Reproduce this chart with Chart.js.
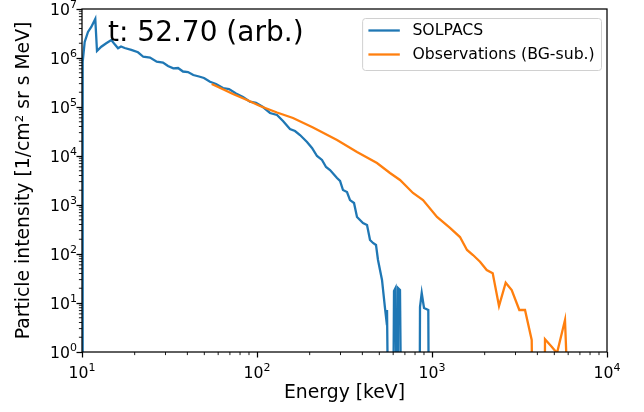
<!DOCTYPE html>
<html lang="en">
<head>
<meta charset="UTF-8">
<title>SOLPACS spectrum vs observations</title>
<script src="https://cdn.jsdelivr.net/npm/chart.js"></script>
<style>
    html, body { margin: 0; padding: 0; background: #fff; }
    #wrap { width: 644px; height: 412px; }
</style>
</head>
<body>
<div id="wrap"><canvas id="spectrum"></canvas></div>
<script>
// energy in keV, intensity in 1/(cm2 sr s MeV); 0.01 means the bin fell off the bottom of the plot
const solpacsEnergy = [10.0, 10.09, 10.36, 10.82, 11.30, 11.91, 12.18, 12.89, 13.76, 14.71,
    15.38, 16.06, 16.71, 17.54, 19.13, 20.89, 22.40, 24.47, 26.73, 29.03,
    31.0, 33.25, 35.38, 37.77, 40.34, 43.25, 46.63, 49.78, 53.88, 58.32,
    63.93, 69.18, 75.86, 83.18, 91.2, 98.7, 108.2, 118.7, 130.1, 140.8,
    154.3, 164.9, 176.1, 193.1, 206.2, 220.2, 235.2, 248, 261.4, 286.6,
    298.2, 310, 326.8, 340, 358.4, 372.8, 403.4, 425.3, 442.4, 460.2,
    478.6, 491.4, 518, 538.8, 546, 553.4, 564.4, 598.6, 606.6, 618.6,
    631, 639.3, 656.3, 669.4, 848.4, 854, 873.4, 900.3, 952.5, 961.4];
const solpacsIntensity = [0.01, 8.3e5, 2.12e6, 3.4e6, 4.3e6, 6.25e6, 1.39e6, 1.70e6, 2.0e6, 2.33e6,
    1.9e6, 1.58e6, 1.72e6, 1.60e6, 1.46e6, 1.31e6, 1.06e6, 1.02e6, 8.4e5, 8.1e5,
    6.87e5, 6.17e5, 6.25e5, 5.3e5, 5.18e5, 4.5e5, 4.19e5, 3.91e5, 3.28e5, 2.95e5,
    2.44e5, 2.33e5, 1.89e5, 1.6e5, 1.28e5, 1.21e5, 1.0e5, 7.55e4, 6.87e4, 5.18e4,
    3.56e4, 3.24e4, 2.68e4, 1.93e4, 1.46e4, 1.0e4, 8.3e3, 5.97e3, 5.18e3, 3.56e3,
    3.09e3, 2.02e3, 1.84e3, 1.26e3, 1.1e3, 569, 429, 391, 193, 168,
    153, 75.4, 29.5, 7.9, 5.2, 7.2, 0.01, 0.01, 17.6, 20.2,
    0.01, 20.2, 18.4, 0.01, 0.01, 8.3, 16, 7.9, 7.2, 0.01];

const obsEnergy = [55.1, 58.3, 63.9, 72.9, 87.7, 104, 130.1, 160.6, 208.9, 286.6,
    372.8, 484.9, 575.4, 656.3, 778.6, 888.5, 1068, 1267, 1445, 1585,
    1715, 1881, 2054, 2223, 2415, 2637, 2854, 3155, 3400, 3713,
    3776, 4395, 4423, 4831, 5180, 5754, 6146];
const obsIntensity = [2.95e5, 2.68e5, 2.3e5, 1.84e5, 1.39e5, 1.05e5, 7.73e4, 5.97e4, 3.82e4, 2.12e4,
    1.21e4, 7.2e3, 4.5e3, 3.24e3, 1.76e3, 1.26e3, 569, 340, 222, 121,
    95.4, 69.7, 47.1, 40.4, 8.7, 25.9, 18.4, 7.2, 7.2, 1.76,
    0.01, 0.01, 1.82, 1.28, 0.95, 4.5, 0.01];

const xDecades = [10, 100, 1000, 10000];
const yDecades = [1, 10, 100, 1e3, 1e4, 1e5, 1e6, 1e7];
const timeLabel = 't: 52.70 (arb.)';

const FONT = 'DejaVu Sans';
const FS = 15.7;          // tick and legend text
const EXP_FS = 11;        // exponent in tick labels

function minorPixels(scale) {
    const out = [];
    for (let d = scale.min; d < scale.max; d *= 10) {
        for (let m = 2; m <= 9; m++) {
            const v = m * d;
            if (v < scale.max) out.push(scale.getPixelForValue(v));
        }
    }
    return out;
}

// "10" with a raised exponent, like matplotlib's mathtext labels
function drawPower(ctx, v, x, baseline, align) {
    const exp = String(Math.round(Math.log10(v)));
    ctx.font = FS + 'px "' + FONT + '"';
    const wb = ctx.measureText('10').width;
    ctx.font = EXP_FS + 'px "' + FONT + '"';
    const we = ctx.measureText(exp).width;
    const x0 = align === 'right' ? x - wb - we : x - (wb + we) / 2;
    ctx.font = FS + 'px "' + FONT + '"';
    ctx.fillText('10', x0, baseline);
    ctx.font = EXP_FS + 'px "' + FONT + '"';
    ctx.fillText(exp, x0 + wb, baseline - 6.6);
}

// frame, minor ticks, tick labels, time stamp and legend box
const decor = {
    id: 'decor',
    afterDraw(chart) {
        const { ctx, chartArea: a, scales } = chart;
        ctx.save();
        ctx.strokeStyle = '#000';
        ctx.lineWidth = 0.9;
        ctx.beginPath();
        minorPixels(scales.x).forEach(px => { ctx.moveTo(px, a.bottom); ctx.lineTo(px, a.bottom + 3.1); });
        minorPixels(scales.y).forEach(py => { ctx.moveTo(a.left, py); ctx.lineTo(a.left - 3.1, py); });
        ctx.stroke();

        ctx.lineWidth = 1.25;
        ctx.strokeRect(a.left, a.top, a.right - a.left, a.bottom - a.top);

        ctx.fillStyle = '#000';
        ctx.textBaseline = 'alphabetic';
        ctx.textAlign = 'left';
        xDecades.forEach(v => drawPower(ctx, v, scales.x.getPixelForValue(v), a.bottom + 25.6, 'center'));
        yDecades.forEach(v => drawPower(ctx, v, a.left - 5, scales.y.getPixelForValue(v) + 5.7, 'right'));

        ctx.font = '28px "' + FONT + '"';
        ctx.fillText(timeLabel, a.left + 26, a.top + 32);

        // legend
        const sets = chart.data.datasets;
        ctx.font = FS + 'px "' + FONT + '"';
        const maxW = Math.max(...sets.map(s => ctx.measureText(s.label).width));
        const boxRight = a.right - 6;
        const boxTop = a.top + 9;
        const textX = boxRight - 6.3 - maxW;
        const boxLeft = textX - 12.6 - 31.4 - 6.3;
        ctx.beginPath();
        ctx.roundRect(boxLeft + 0.5, boxTop + 0.5, boxRight - boxLeft, 52, 3);
        ctx.fillStyle = 'rgba(255,255,255,0.8)';
        ctx.fill();
        ctx.strokeStyle = '#d0d0d0';
        ctx.lineWidth = 1;
        ctx.stroke();
        ctx.textBaseline = 'middle';
        sets.forEach((s, i) => {
            const y = boxTop + 12.5 + i * 24;
            ctx.strokeStyle = s.borderColor;
            ctx.lineWidth = 2.3;
            ctx.beginPath();
            ctx.moveTo(textX - 44, y);
            ctx.lineTo(textX - 12.6, y);
            ctx.stroke();
            ctx.fillStyle = '#000';
            ctx.fillText(s.label, textX, y);
        });
        ctx.restore();
    }
};

const titleFont = { family: FONT, size: 18.8 };

new Chart(document.getElementById('spectrum'), {
    type: 'line',
    data: {
        datasets: [
            {
                label: 'SOLPACS',
                data: solpacsEnergy.map((e, i) => ({ x: e, y: solpacsIntensity[i] })),
                borderColor: '#1f77b4',
                borderWidth: 2.3,
                pointRadius: 0,
                tension: 0,
                order: 1
            },
            {
                label: 'Observations (BG-sub.)',
                data: obsEnergy.map((e, i) => ({ x: e, y: obsIntensity[i] })),
                borderColor: '#ff7f0e',
                borderWidth: 2.3,
                pointRadius: 0,
                tension: 0,
                order: 0
            }
        ]
    },
    options: {
        responsive: true,
        maintainAspectRatio: false,
        animation: false,
        devicePixelRatio: 1,
        layout: { padding: { left: 0, top: 9, right: 37, bottom: 0 } },
        plugins: { legend: { display: false }, tooltip: { enabled: false } },
        scales: {
            x: {
                type: 'logarithmic',
                min: 10,
                max: 10000,
                afterBuildTicks: s => { s.ticks = xDecades.map(v => ({ value: v, major: true })); },
                afterFit: s => { s.height = 60; },
                grid: { drawOnChartArea: false, drawTicks: true, tickLength: 5.5, tickColor: '#000', tickWidth: 1.25 },
                border: { display: false },
                ticks: { display: false, autoSkip: false, maxRotation: 0 },
                title: { display: true, text: 'Energy [keV]', color: '#000', font: titleFont, padding: { top: 0, bottom: 8 } }
            },
            y: {
                type: 'logarithmic',
                min: 1,
                max: 1e7,
                afterBuildTicks: s => { s.ticks = yDecades.map(v => ({ value: v, major: true })); },
                afterFit: s => { s.width = 82; },
                grid: { drawOnChartArea: false, drawTicks: true, tickLength: 5.5, tickColor: '#000', tickWidth: 1.25 },
                border: { display: false },
                ticks: { display: false, autoSkip: false },
                title: { display: true, text: 'Particle intensity [1/cm² sr s MeV]', color: '#000', font: titleFont, padding: { top: 13, bottom: 0 } }
            }
        }
    },
    plugins: [decor]
});
</script>
</body>
</html>
